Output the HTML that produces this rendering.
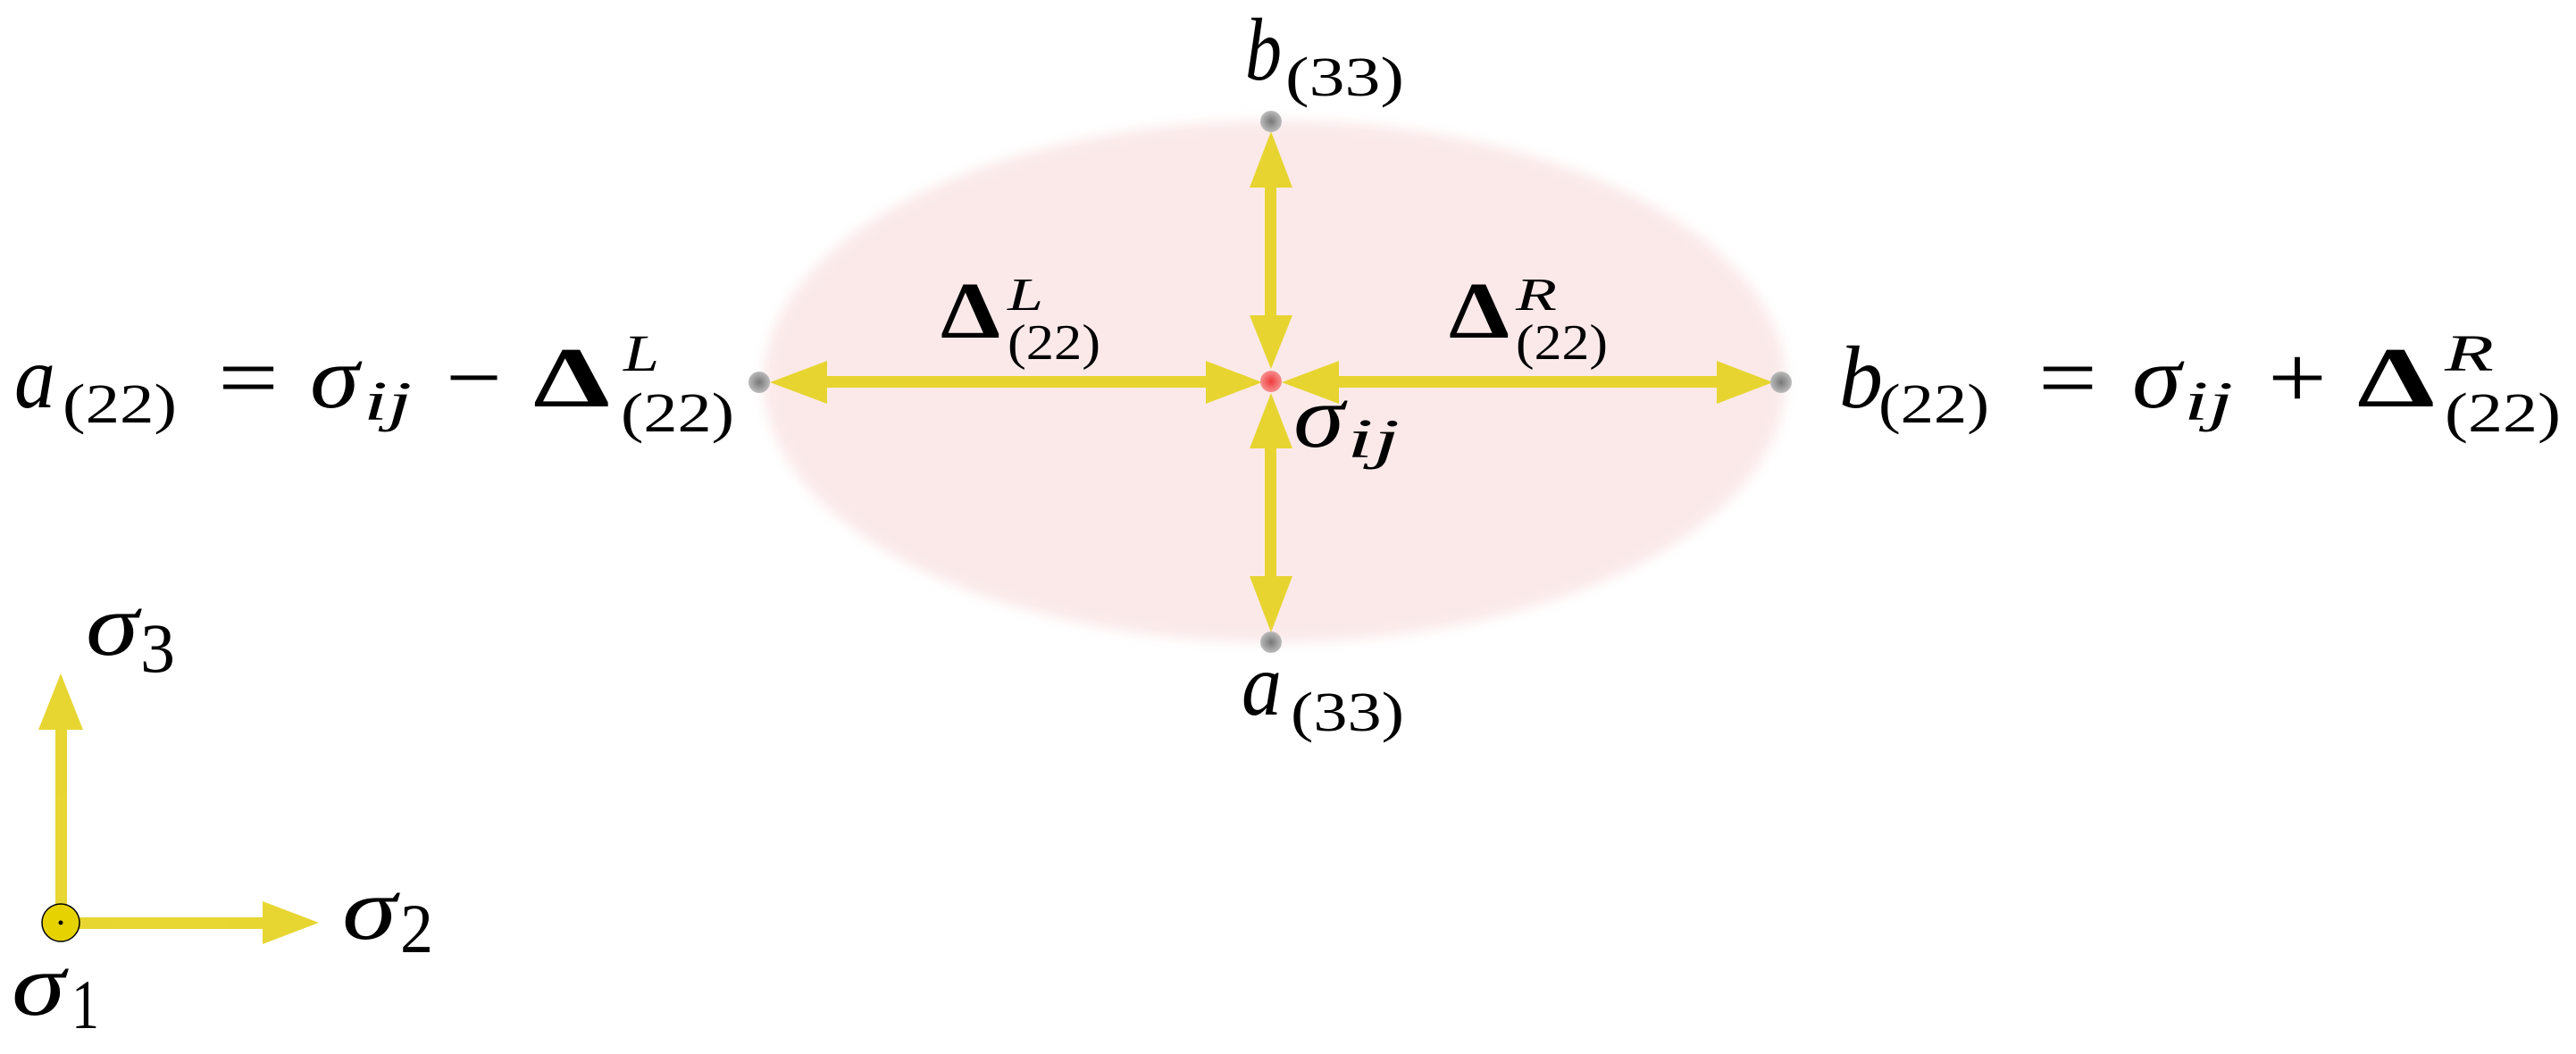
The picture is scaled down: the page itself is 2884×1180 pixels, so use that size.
<!DOCTYPE html>
<html><head><meta charset="utf-8"><style>
html,body{margin:0;padding:0;background:#fff;}
svg{display:block;}
text{font-family:"Liberation Serif",serif;fill:#000;}
.i{font-style:italic;}
.b{font-weight:bold;}
</style></head><body>
<svg width="2884" height="1180" viewBox="0 0 2884 1180" xmlns="http://www.w3.org/2000/svg">
<defs>
<filter id="bl" x="-10%" y="-10%" width="120%" height="120%"><feGaussianBlur stdDeviation="7"/></filter>
<radialGradient id="gd"><stop offset="0" stop-color="#777"/><stop offset="1" stop-color="#bbb"/></radialGradient>
<radialGradient id="rd"><stop offset="0" stop-color="#f03a3a"/><stop offset="1" stop-color="#f59090"/></radialGradient>
</defs>
<ellipse cx="1427" cy="427" rx="572" ry="292" fill="#fbe9e9" filter="url(#bl)"/>
<g fill="#e5d21c" opacity="0.9">
<!-- horizontal shafts -->
<rect x="920" y="421" width="436" height="13"/>
<rect x="1494" y="421" width="432" height="13"/>
<!-- vertical shafts -->
<rect x="1416" y="205" width="13" height="152"/>
<rect x="1416" y="498" width="13" height="150"/>
<!-- heads -->
<polygon points="862,428 926,404 926,452"/>
<polygon points="1413,428 1350,404 1350,452"/>
<polygon points="1435,428 1499,404 1499,452"/>
<polygon points="1985,428 1922,404 1922,452"/>
<polygon points="1423,147 1399,210 1447,210"/>
<polygon points="1423,413 1399,353 1447,353"/>
<polygon points="1423,440 1399,502 1447,502"/>
<polygon points="1423,708 1399,645 1447,645"/>
<!-- axes -->
<rect x="62" y="812" width="13" height="221"/>
<rect x="68" y="1027" width="230" height="13"/>
<polygon points="68,754 43,817 93,817"/>
<polygon points="357,1033 294,1009 294,1057"/>
</g>
<circle cx="68" cy="1033" r="21" fill="#e6d200" stroke="#000" stroke-width="1.5"/>
<circle cx="68" cy="1033" r="2.5" fill="#000"/>
<circle cx="850" cy="428" r="12" fill="url(#gd)"/>
<circle cx="1994" cy="428" r="12" fill="url(#gd)"/>
<circle cx="1423" cy="136" r="12" fill="url(#gd)"/>
<circle cx="1423" cy="719" r="12" fill="url(#gd)"/>
<circle cx="1423" cy="427" r="12" fill="url(#rd)"/>

<!-- left equation -->
<text class="i" x="16" y="456" font-size="100" textLength="46" lengthAdjust="spacingAndGlyphs">a</text>
<text x="70" y="473" font-size="62" textLength="128" lengthAdjust="spacingAndGlyphs">(22)</text>
<text x="244" y="456" font-size="100" textLength="68" lengthAdjust="spacingAndGlyphs">=</text>
<text class="i" x="347" y="456" font-size="100" textLength="55" lengthAdjust="spacingAndGlyphs">σ</text>
<text class="i" x="407" y="470" font-size="62" textLength="54" lengthAdjust="spacingAndGlyphs">ij</text>
<text x="499" y="456" font-size="100" textLength="63" lengthAdjust="spacingAndGlyphs">−</text>
<text class="b" x="597" y="455" font-size="96" textLength="86" lengthAdjust="spacingAndGlyphs">Δ</text>
<text class="i" x="698" y="415" font-size="58" textLength="40" lengthAdjust="spacingAndGlyphs">L</text>
<text x="695" y="483" font-size="62" textLength="127" lengthAdjust="spacingAndGlyphs">(22)</text>

<!-- right equation -->
<text class="i" x="2059" y="456" font-size="100" textLength="49" lengthAdjust="spacingAndGlyphs">b</text>
<text x="2103" y="473" font-size="62" textLength="124" lengthAdjust="spacingAndGlyphs">(22)</text>
<text x="2282" y="456" font-size="100" textLength="66" lengthAdjust="spacingAndGlyphs">=</text>
<text class="i" x="2387" y="456" font-size="100" textLength="55" lengthAdjust="spacingAndGlyphs">σ</text>
<text class="i" x="2445" y="470" font-size="62" textLength="55" lengthAdjust="spacingAndGlyphs">ij</text>
<text x="2539" y="456" font-size="100" textLength="66" lengthAdjust="spacingAndGlyphs">+</text>
<text class="b" x="2639" y="455" font-size="96" textLength="87" lengthAdjust="spacingAndGlyphs">Δ</text>
<text class="i" x="2737" y="415" font-size="58" textLength="55" lengthAdjust="spacingAndGlyphs">R</text>
<text x="2737" y="483" font-size="62" textLength="130" lengthAdjust="spacingAndGlyphs">(22)</text>

<!-- center labels -->
<text class="b" x="1053" y="378" font-size="90" textLength="67" lengthAdjust="spacingAndGlyphs">Δ</text>
<text class="i" x="1128" y="347" font-size="52" textLength="40" lengthAdjust="spacingAndGlyphs">L</text>
<text x="1128" y="402" font-size="56" textLength="104" lengthAdjust="spacingAndGlyphs">(22)</text>
<text class="b" x="1622" y="378" font-size="90" textLength="68" lengthAdjust="spacingAndGlyphs">Δ</text>
<text class="i" x="1697" y="347" font-size="52" textLength="46" lengthAdjust="spacingAndGlyphs">R</text>
<text x="1697" y="402" font-size="56" textLength="103" lengthAdjust="spacingAndGlyphs">(22)</text>

<text class="i" x="1448" y="500" font-size="100" textLength="57" lengthAdjust="spacingAndGlyphs">σ</text>
<text class="i" x="1508" y="512" font-size="62" textLength="59" lengthAdjust="spacingAndGlyphs">ij</text>

<text class="i" x="1394" y="89" font-size="100" textLength="41" lengthAdjust="spacingAndGlyphs">b</text>
<text x="1439" y="107" font-size="62" textLength="133" lengthAdjust="spacingAndGlyphs">(33)</text>
<text class="i" x="1390" y="800" font-size="100" textLength="45" lengthAdjust="spacingAndGlyphs">a</text>
<text x="1445" y="818" font-size="62" textLength="127" lengthAdjust="spacingAndGlyphs">(33)</text>

<!-- axis labels -->
<text class="i" x="96" y="733" font-size="100" textLength="59" lengthAdjust="spacingAndGlyphs">σ</text>
<text x="157" y="752" font-size="78" textLength="39" lengthAdjust="spacingAndGlyphs">3</text>
<text class="i" x="383" y="1051" font-size="100" textLength="61" lengthAdjust="spacingAndGlyphs">σ</text>
<text x="448" y="1066" font-size="78" textLength="37" lengthAdjust="spacingAndGlyphs">2</text>
<text class="i" x="13" y="1136" font-size="100" textLength="60" lengthAdjust="spacingAndGlyphs">σ</text>
<text x="80" y="1151" font-size="78" textLength="31" lengthAdjust="spacingAndGlyphs">1</text>
</svg>
</body></html>
